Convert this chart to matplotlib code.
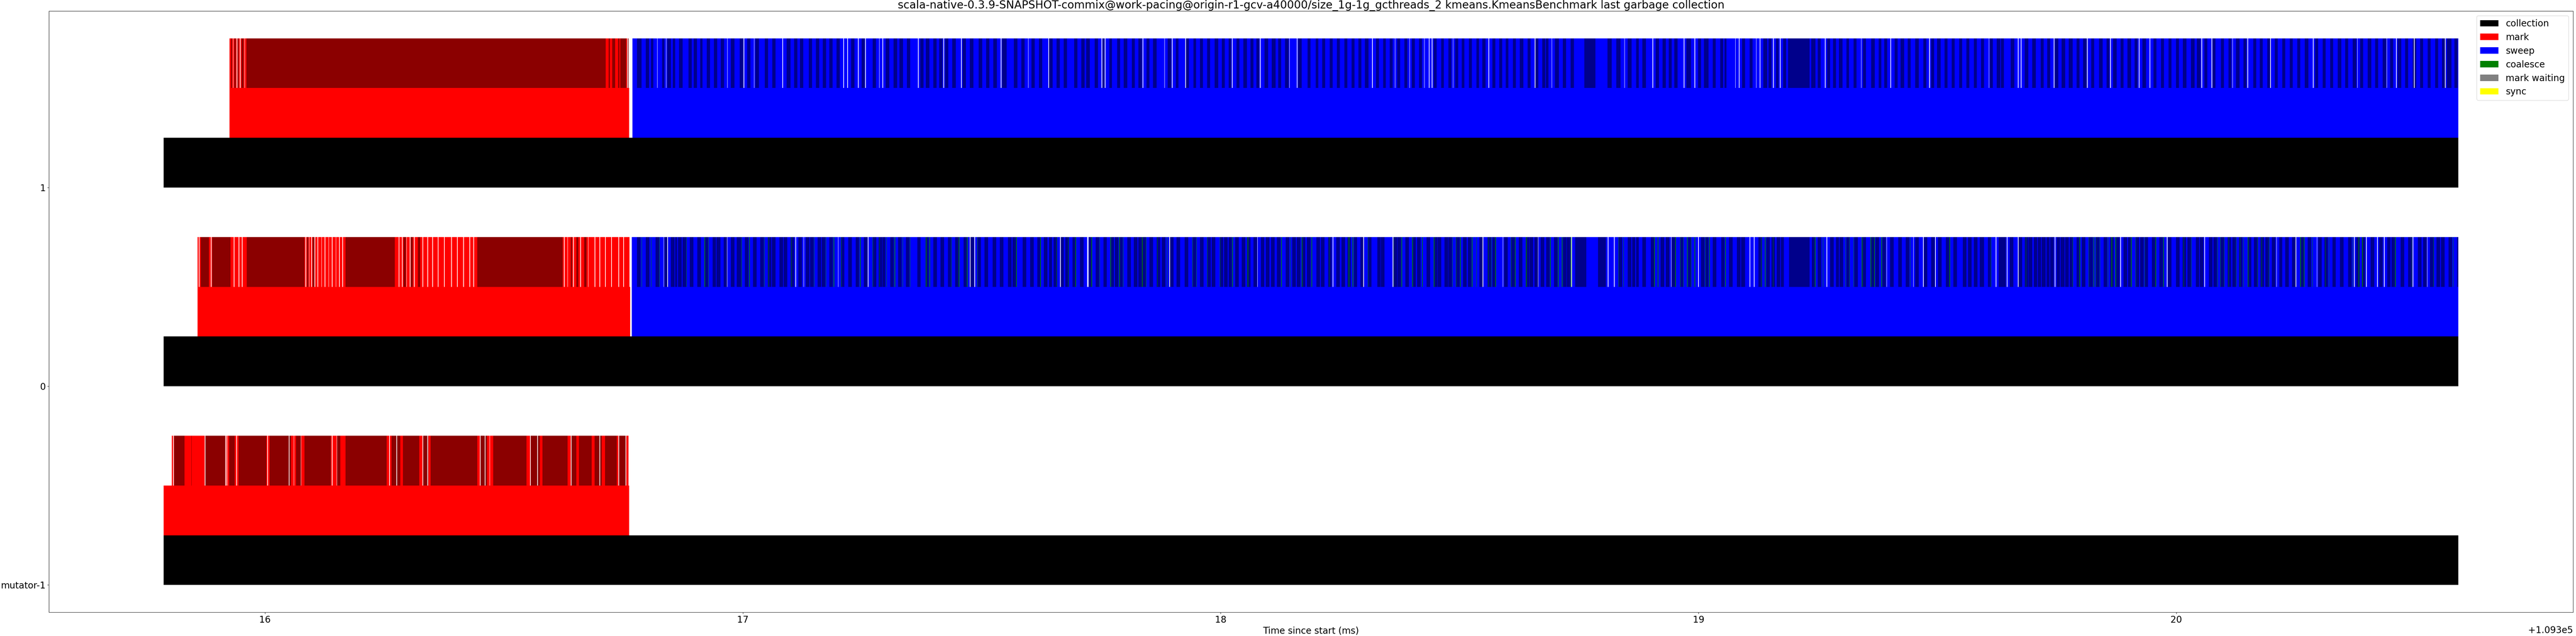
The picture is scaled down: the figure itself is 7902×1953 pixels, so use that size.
import matplotlib
matplotlib.use("Agg")
import matplotlib.pyplot as plt
from matplotlib.patches import Patch

# all *_us values are microseconds after BASE_MS
BASE_MS = 109300.0

threads = ["mutator-1", "0", "1"]
collection_ms = [(109315.788, 109320.590), (109315.788, 109320.590), (109315.788, 109320.590)]
mark_ms = [(109315.788, 109316.762), (109315.859, 109316.764), (109315.926, 109316.762)]
sweep_ms = [None, (109316.768, 109320.590), (109316.769, 109320.590)]
mark_batch_span_ms = [(109315.805, 109316.761), (109315.859, 109316.763), (109315.926, 109316.761)]

# mark batches (dark red) and gaps between batches
mut_mark_dark_us = [(15810, 22), (15846, 1), (15875, 42), (15925, 12), (15945, 58), (16010, 45),
                    (16065, 10), (16083, 55), (16150, 8), (16169, 86), (16265, 18), (16289, 34),
                    (16330, 12), (16347, 97), (16450, 15), (16478, 69), (16555, 20), (16581, 52),
                    (16640, 12), (16657, 27), (16690, 15), (16712, 24), (16740, 15)]
mut_mark_gaps_us = [15808, 15874, 15917, 15920, 15940, 16005, 16050, 16060, 16075, 16140, 16150,
                    16260, 16275, 16330, 16340, 16450, 16460, 16470, 16555, 16570, 16640, 16700,
                    16740, 16755]
t0_mark_dark_us = [(15866, 17), (15890, 38), (15962, 121), (16088, 3), (16100, 3), (16169, 103),
                   (16290, 5), (16305, 4), (16320, 5), (16444, 179), (16640, 3), (16652, 4),
                   (16668, 5)]
t0_mark_gaps_us = [15862, 15887, 15935, 15945, 15952, 16085, 16092, 16097, 16104, 16110, 16118,
                   16125, 16133, 16140, 16148, 16155, 16162, 16280, 16287, 16296, 16303, 16312,
                   16330, 16340, 16350, 16362, 16375, 16390, 16402, 16415, 16428, 16436, 16626,
                   16633, 16645, 16660, 16676, 16690, 16700, 16712, 16725, 16740, 16750]
t1_mark_dark_us = [(15929, 2), (15936, 3), (15943, 2), (15951, 4), (15961, 752), (16719, 3),
                   (16727, 6), (16739, 3), (16744, 12), (16759, 2)]
t1_mark_gaps_us = [15933, 15941, 15948, 15957, 16758]

# sweep batches (dark blue), gaps and coalesce batches
t0_sweep_dark_us = [
    (16778.9, 7.4), (16797.3, 7.4), (16817.6, 7.4), (16836.0, 7.4), (16849.5, 7.4), (16858.7, 4),
    (16864.8, 7.4), (16874.0, 7.4), (16889.4, 7.4), (16904.7, 7.4), (16920.1, 7.4), (16936.6, 7.4),
    (16945.2, 8), (16960.0, 7.4), (16975.3, 7.4), (16987.6, 9), (17004.7, 7.4), (17021.3, 7.4),
    (17036.7, 7.4), (17052.0, 7.4), (17061.2, 7.4), (17076.5, 7.4), (17085.7, 7.4), (17099.9, 7.4),
    (17116.4, 7.4), (17131.8, 7.4), (17141.0, 7.4), (17156.3, 7.4), (17165.5, 7.4), (17180.9, 7.4),
    (17205.4, 7.4), (17220.7, 7.4), (17236.1, 7.4), (17253.3, 7.4), (17271.7, 7.4), (17283.9, 7.4),
    (17292.5, 6), (17308.5, 7.4), (17325.1, 7.4), (17341.6, 7.4), (17365.0, 7.4), (17382.1, 7.4),
    (17398.7, 7.4), (17414.0, 7.4), (17429.4, 7.4), (17444.7, 7.4), (17461.9, 7.4), (17476.6, 7.4),
    (17490.7, 7.4), (17506.1, 7.4), (17523.2, 7.4), (17538.0, 7.4), (17555.2, 7.4), (17564.4, 7.4),
    (17585.8, 7.4), (17601.2, 7.4), (17616.5, 7.4), (17630.0, 7.4), (17641.1, 6), (17650.3, 7.4),
    (17664.4, 7.4), (17674.8, 7.4), (17690.2, 7.4), (17705.5, 7.4),
    (17723.8, 7.4), (17738.5, 7.4), (17754.5, 7.4), (17769.2, 7.4), (17779.0, 7.4), (17787.6, 7.4),
    (17804.8, 7.4), (17818.3, 7.4), (17828.1, 7.4), (17836.7, 7.4), (17850.8, 7.4), (17866.2, 7.4),
    (17877.2, 7.4), (17893.8, 7.4), (17907.9, 7.4), (17924.5, 7.4), (17941.0, 7.4), (17957.0, 7.4),
    (17971.7, 7.4), (17981.5, 7.4), (17998.1, 7.4), (18007.3, 7.4), (18016.5, 7.4), (18030.6, 7.4),
    (18044.1, 7.4), (18055.2, 7.4), (18068.7, 7.4), (18084.0, 7.4), (18094.4, 7.4), (18105.5, 7.4),
    (18117.7, 7.4), (18136.1, 7.4), (18149.7, 7.4), (18159.5, 7.4), (18169.9, 7.4), (18180.3, 7.4),
    (18200.6, 7.4), (18209.8, 7.4), (18225.1, 7.4), (18241.7, 7.4), (18252.7, 7.4), (18265.0, 7.4),
    (18278.5, 7.4), (18292.6, 7.4), (18308.0, 7.4), (18327.6, 7.4), (18335.6, 7.4), (18362.0, 7.4),
    (18370.5, 7.4), (18386.5, 7.4), (18401.2, 7.4), (18411.0, 7.4), (18430.7, 7.4), (18446.0, 7.4),
    (18454.0, 7.4), (18468.7, 7.4), (18476.7, 7.4), (18493.3, 7.4), (18507.4, 7.4), (18517.8, 7.4),
    (18541.1, 7.4), (18558.3, 7.4), (18568.7, 7.4), (18593.3, 7.4), (18608.6, 7.4), (18624.0, 7.4),
    (18638.1, 7.4), (18646.7, 7.4), (18656.5, 7.4), (18670.0, 7.4),
    (18681.6, 7.4), (18697.5, 7.4), (18715.9, 7.4), (18724.5, 7.4), (18741.7, 23.3), (18789.6, 16.6),
    (18832.5, 7.4), (18852.1, 7.4), (18861.3, 6), (18869.3, 6), (18882.8, 7.4), (18900.0, 7.4),
    (18920.9, 7.4), (18931.9, 7.4), (18944.2, 7.4), (18962.6, 6), (18977.9, 6), (19005.5, 7.4),
    (19014.8, 6), (19030.1, 7.4), (19047.3, 7.4), (19063.8, 7.4), (19080.4, 7.4), (19089.0, 8.6),
    (19125.2, 7.4), (19141.8, 7.4), (19152.8, 7.4), (19163.9, 7.4), (19172.4, 6), (19189.6, 43),
    (19237.5, 7.4), (19249.8, 7.4), (19275.5, 7.4), (19287.8, 6), (19295.2, 7.4), (19309.3, 7.4),
    (19325.8, 7.4), (19343.0, 7.4), (19360.2, 7.4), (19370.6, 7.4), (19384.8, 7.4), (19401.3, 7.4),
    (19417.9, 7.4), (19433.8, 7.4), (19453.5, 7.4), (19471.6, 7.4), (19487.2, 7.4), (19501.3, 7.4),
    (19517.9, 7.4), (19533.2, 7.4), (19552.9, 7.4), (19563.9, 7.4), (19576.2, 7.4), (19588.5, 9.2),
    (19605.6, 6), (19628.4, 7.4),
    (19635.8, 7.4), (19651.4, 7.4), (19669.6, 7.4), (19682.8, 7.4), (19690.9, 7.5), (19701.6, 7.4),
    (19709.7, 7.4), (19718.5, 8), (19728.5, 6.3), (19736.0, 7.5), (19749.8, 6.3), (19758.0, 8),
    (19767.4, 7.5), (19776.8, 6.3), (19791.2, 7.4), (19801.9, 7.4), (19816.3, 8.8), (19831.3, 7.4),
    (19847.6, 7.4), (19861.4, 7.4), (19873.9, 7.4), (19889.6, 7.4), (19899.0, 7.4), (19914.7, 7.4),
    (19924.1, 7.4), (19933.5, 7.4), (19949.1, 7.4), (19964.8, 7.4), (19982.3, 7.4), (19999.3, 7.4),
    (20013.0, 7.4), (20023.1, 7.4), (20040.6, 7.4), (20049.4, 7.4), (20068.2, 7.4), (20077.6, 7.4),
    (20092.0, 7.4), (20107.1, 7.4), (20117.1, 7.4), (20130.9, 7.4), (20149.7, 7.4), (20162.2, 7.4),
    (20176.0, 7.4), (20186.0, 7.4), (20199.8, 7.4), (20215.5, 6.3), (20228.0, 7.4), (20242.4, 7.4),
    (20259.3, 7.4), (20275.0, 7.4), (20296.9, 7.4), (20309.5, 7.4), (20326.4, 7.4), (20342.7, 7.4),
    (20359.6, 7.4), (20376.5, 7.4), (20387.8, 7.4), (20406.6, 7.4), (20424.2, 7.4), (20441.1, 7.4),
    (20450.5, 7.4), (20469.3, 7.4), (20485.0, 7.4), (20505.6, 7.4), (20516.3, 7.4), (20530.7, 7.4),
    (20544.5, 7.4), (20553.9, 7.4), (20569.6, 7.4), (20587.1, 3)]
t0_sweep_gaps_us = [
    16834.2, 16842.1, 16966.7, 17110.3, 17126.9, 17199.3, 17261.8, 17475.4, 17484.6, 17664.4,
    17720.8, 17722.0, 17892.6, 18076.6, 18234.3, 18298.8, 18360.1, 18548.5, 18590.2, 18663.9,
    18733.7, 18810.4, 18823.3, 18942.3, 18999.4, 19106.8, 19116.0, 19268.2, 19393.3, 19449.2,
    19470.0, 19495.2, 19622.2, 19645.2, 19668.4, 19745.4, 19882.7, 19980.4, 20058.8, 20209.2,
    20249.9, 20293.8, 20372.1, 20397.2, 20420.4, 20434.8, 20494.4, 20524.4]
t0_coalesce_us = [
    16788.1, 16807.8, 16825.0, 16881.4, 16920.1, 16928.0, 16996.8, 17013.3, 17044.6, 17053.2,
    17101.1, 17148.9, 17173.5, 17190.1, 17205.4, 17245.3, 17271.7, 17285.2, 17300.5, 17317.7,
    17334.3, 17349.6, 17383.3, 17390.7, 17435.5, 17452.1, 17469.2, 17490.7, 17572.3, 17622.6,
    17656.4, 17681.0, 17696.3, 17729.9, 17746.5, 17769.2, 17787.6, 17795.6, 17835.5, 17843.5,
    17867.4, 17887.6, 17941.0, 17949.0, 17971.7, 17998.1, 18024.5, 18056.4, 18126.9, 18145.4,
    18169.9, 18190.1, 18226.9, 18268.1, 18276.1, 18308.0, 18361.9, 18378.5, 18401.2, 18421.5,
    18446.0, 18484.7, 18492.0, 18501.3, 18525.8, 18535.0, 18559.5, 18565.7, 18574.9, 18607.4,
    18616.0, 18639.3, 18689.5, 18706.1, 18714.1, 18732.5, 18832.5, 18842.9, 18907.4, 18914.7,
    18951.5, 18961.4, 18967.5, 18976.1, 18984.1, 18992.0, 19014.1, 19022.7, 19055.9, 19131.3,
    19139.3, 19155.9, 19243.6, 19260.2, 19307.4, 19315.4, 19324.6, 19341.8, 19360.2, 19367.6,
    19382.9, 19442.4, 19525.3, 19611.8, 19684.7, 19783.0, 19797.5, 19816.3, 19826.9, 19831.3,
    19839.4, 19856.4, 19864.5, 19872.7, 19905.3, 19914.7, 19933.5, 19956.6, 19972.9, 20014.9,
    20030.6, 20085.7, 20092.0, 20099.5, 20108.9, 20124.6, 20132.7, 20140.3, 20149.7, 20169.7,
    20177.9, 20193.5, 20259.3, 20266.9, 20284.4, 20311.4, 20318.9, 20369.0, 20381.5, 20389.1,
    20458.0, 20492.5, 20538.2, 20579.0]

t1_sweep_dark_us = [
    (16778.9, 9.2), (16797.3, 6.7), (16807.8, 4.9), (16831.1, 4.9), (16842.1, 7.4), (16853.8, 4.9),
    (16866.7, 7.4), (16886.3, 7), (16897.4, 7), (16910.9, 4.9), (16924.4, 7), (16939.7, 7),
    (16953.8, 7), (16975.3, 7), (16993.7, 7), (17009.0, 7), (17026.2, 7.4), (17045.9, 7),
    (17061.8, 7), (17091.9, 8), (17107.2, 7), (17119.5, 7), (17137.9, 7), (17153.2, 7),
    (17167.4, 7), (17180.9, 7), (17196.2, 7), (17226.9, 7), (17248.3, 7), (17271.7, 7),
    (17299.3, 7), (17315.8, 7), (17328.1, 7), (17343.5, 7), (17371.1, 7), (17383.3, 7),
    (17398.7, 7), (17410.9, 7), (17423.2, 7), (17438.6, 7), (17460.0, 7), (17475.4, 7),
    (17493.8, 7), (17509.1, 7), (17524.5, 7), (17542.9, 9.2), (17567.4, 7), (17582.8, 7),
    (17604.2, 7), (17619.6, 7), (17641.1, 7), (17656.4, 7), (17671.7, 7), (17693.2, 7),
    (17708.5, 7),
    (17718.9, 7.4), (17736.1, 7), (17752.6, 4.3), (17766.8, 6), (17783.3, 6), (17797.4, 7.4),
    (17814.0, 6), (17828.1, 7.4), (17844.7, 6), (17858.8, 7.4), (17889.5, 7.4), (17906.0, 6),
    (17927.5, 6), (17942.9, 6), (17957.0, 6), (17971.7, 6), (17987.7, 7.4), (18002.4, 6),
    (18016.5, 6), (18033.1, 6), (18047.2, 8), (18062.5, 6), (18074.8, 6), (18092.0, 7.4),
    (18106.7, 8), (18120.8, 6), (18134.9, 7.4), (18161.9, 8), (18182.2, 6), (18198.7, 6),
    (18212.8, 6), (18228.2, 6), (18243.5, 6), (18258.9, 6), (18274.2, 6), (18288.3, 6),
    (18301.8, 7.4), (18325.1, 6), (18339.9, 6), (18354.0, 6), (18369.3, 6), (18384.6, 6),
    (18400.0, 6), (18415.3, 6), (18446.0, 6), (18461.3, 6), (18476.7, 6), (18490.8, 6),
    (18504.3, 6), (18519.7, 6), (18535.0, 6), (18547.3, 7.4), (18568.7, 6), (18582.9, 6),
    (18596.4, 6), (18611.7, 6), (18625.8, 7.4), (18642.4, 6), (18658.9, 6), (18673.1, 6),
    (18680.3, 6), (18700.0, 8), (18715.9, 7), (18732.5, 7), (18761.3, 23.3), (18809.2, 9.2),
    (18827.6, 9.2), (18852.1, 8), (18869.3, 6), (18882.8, 7), (18910.4, 7), (18924.5, 7),
    (18938.0, 6), (18949.1, 7), (18974.9, 9.2), (18999.4, 6), (19011.7, 9.2), (19030.1, 6),
    (19045.4, 6), (19054.6, 4), (19091.4, 6), (19106.8, 6), (19135.6, 8), (19146.7, 6),
    (19162.0, 6), (19177.4, 6), (19187.2, 45.4), (19235.6, 9.2), (19249.8, 6), (19269.4, 6),
    (19281.7, 6), (19293.9, 7.4), (19309.3, 6), (19324.6, 6), (19344.3, 6), (19361.4, 7.4),
    (19376.8, 6), (19389.0, 6), (19410.5, 6), (19422.8, 7.4), (19438.1, 6), (19453.5, 7.4),
    (19470.7, 6), (19487.2, 6), (19499.5, 7.4), (19514.8, 6), (19530.2, 6), (19545.5, 6),
    (19560.9, 6), (19576.2, 6), (19591.5, 6), (19609.9, 6), (19624.1, 7.4),
    (19632.6, 6.3), (19653.3, 7.5), (19682.8, 7.5), (19698.4, 7.5), (19716.0, 6.3), (19729.8, 6.3),
    (19745.4, 7.5), (19759.9, 7.5), (19774.9, 8), (19791.2, 6.3), (19805.0, 7.5), (19821.9, 6.3),
    (19838.2, 7.5), (19853.9, 6.3), (19867.6, 7.5), (19883.3, 6.3), (19897.7, 7.5), (19912.8, 6.3),
    (19929.1, 7.5), (19952.2, 6.3), (19967.9, 6.3), (19983.6, 6.3), (19999.3, 6.3), (20013.7, 7.5),
    (20030.6, 7.5), (20043.1, 7.5), (20058.8, 6.3), (20075.7, 6.3), (20093.3, 6.3), (20108.9, 6.3),
    (20124.6, 7.5), (20140.3, 6.3), (20161.0, 6.3), (20174.7, 6.3), (20190.4, 6.3), (20206.1, 6.3),
    (20221.7, 6.3), (20237.4, 6.3), (20253.1, 6.3), (20268.7, 7.5), (20290.7, 6.3), (20306.3, 6.3),
    (20322.0, 6.3), (20337.7, 7.5), (20353.4, 6.3), (20369.0, 7.5), (20384.7, 6.3), (20400.4, 7.5),
    (20416.0, 6.3), (20431.7, 7.5), (20447.4, 6.3), (20463.1, 7.5), (20478.7, 6.3), (20494.4, 7.5),
    (20510.0, 6.3), (20525.7, 6.3), (20541.4, 6.3), (20555.7, 7.5), (20566.4, 9.4), (20582.1, 6.3)]
t1_sweep_gaps_us = [
    16820.7, 16839.1, 16967.3, 17001.7, 17023.2, 17082.7, 17210.3, 17218.9, 17241.0, 17256.3,
    17285.2, 17292.5, 17366.8, 17420.2, 17457.0, 17539.8, 17596.9, 17639.8, 17750.8, 17757.6,
    17836.7, 17882.1, 17898.1, 17926.3, 18023.9, 18082.2, 18143.5, 18159.5, 18317.2, 18364.4,
    18395.1, 18425.8, 18435.6, 18441.7, 18485.9, 18560.8, 18657.7, 18692.6, 18844.8, 18903.7,
    18969.3, 18992.0, 19076.7, 19084.7, 19120.3, 19128.3, 19155.9, 19170.6, 19264.5, 19340.0,
    19401.9, 19482.9, 19607.5, 19668.4, 19674.6, 19743.6, 19813.1, 19861.4, 19921.5, 19944.1,
    20052.5, 20073.8, 20117.1, 20149.0, 20196.7, 20285.7, 20378.4, 20439.8, 20459.9, 20497.5,
    20562.0]
t1_coalesce_us = []

mark_dark = [mut_mark_dark_us, t0_mark_dark_us, t1_mark_dark_us]
mark_gaps = [mut_mark_gaps_us, t0_mark_gaps_us, t1_mark_gaps_us]
sweep_dark = [[], t0_sweep_dark_us, t1_sweep_dark_us]
sweep_gaps = [[], t0_sweep_gaps_us, t1_sweep_gaps_us]
coalesce = [[], t0_coalesce_us, t1_coalesce_us]

legend_names = ["collection", "mark", "sweep", "coalesce", "mark waiting", "sync"]
legend_colors = ["black", "red", "blue", "green", "grey", "yellow"]

title = ("scala-native-0.3.9-SNAPSHOT-commix@work-pacing@origin-r1-gcv-a40000/"
         "size_1g-1g_gcthreads_2 kmeans.KmeansBenchmark last garbage collection")


def to_ms(us):
    return BASE_MS + us / 1000.0


def span(a, b):
    return [(a, b - a)]


plt.rcParams["font.size"] = 20
fig = plt.figure(figsize=(79.02, 19.53), dpi=100)
ax = fig.add_axes([150 / 7902, 73 / 1953, 7743 / 7902, 1846 / 1953])

H = 0.25
GAP_W = 0.0012
LINE_W = 0.0010
for i in range(len(threads)):
    ax.broken_barh(span(*collection_ms[i]), (i, H), facecolors="black", linewidth=0)
    ax.broken_barh(span(*mark_ms[i]), (i + H, H), facecolors="red", linewidth=0)
    if sweep_ms[i]:
        ax.broken_barh(span(*sweep_ms[i]), (i + H, H), facecolors="blue", linewidth=0)

    # batch level
    top = (i + 2 * H, H)
    ax.broken_barh(span(*mark_batch_span_ms[i]), top, facecolors="red", linewidth=0)
    ax.broken_barh([(to_ms(s), w / 1000.0) for s, w in mark_dark[i]], top,
                   facecolors="darkred", linewidth=0)
    ax.broken_barh([(to_ms(s), GAP_W) for s in mark_gaps[i]], top,
                   facecolors="white", linewidth=0)
    if sweep_ms[i]:
        ax.broken_barh(span(*sweep_ms[i]), top, facecolors="blue", linewidth=0)
        ax.broken_barh([(to_ms(s), w / 1000.0) for s, w in sweep_dark[i]], top,
                       facecolors="darkblue", linewidth=0)
        ax.broken_barh([(to_ms(s), GAP_W) for s in sweep_gaps[i]], top,
                       facecolors="white", linewidth=0)
        ax.broken_barh([(to_ms(s), LINE_W) for s in coalesce[i]], top,
                       facecolors="green", linewidth=0)

ax.set_yticks(range(len(threads)))
ax.set_yticklabels(threads)
ax.set_xlabel("Time since start (ms)")
ax.set_title(title, fontsize=24)

handles = [Patch(facecolor=c, label=n) for n, c in zip(legend_names, legend_colors)]
ax.legend(handles=handles, loc="upper right")

fig.savefig("out.png", dpi=100)
